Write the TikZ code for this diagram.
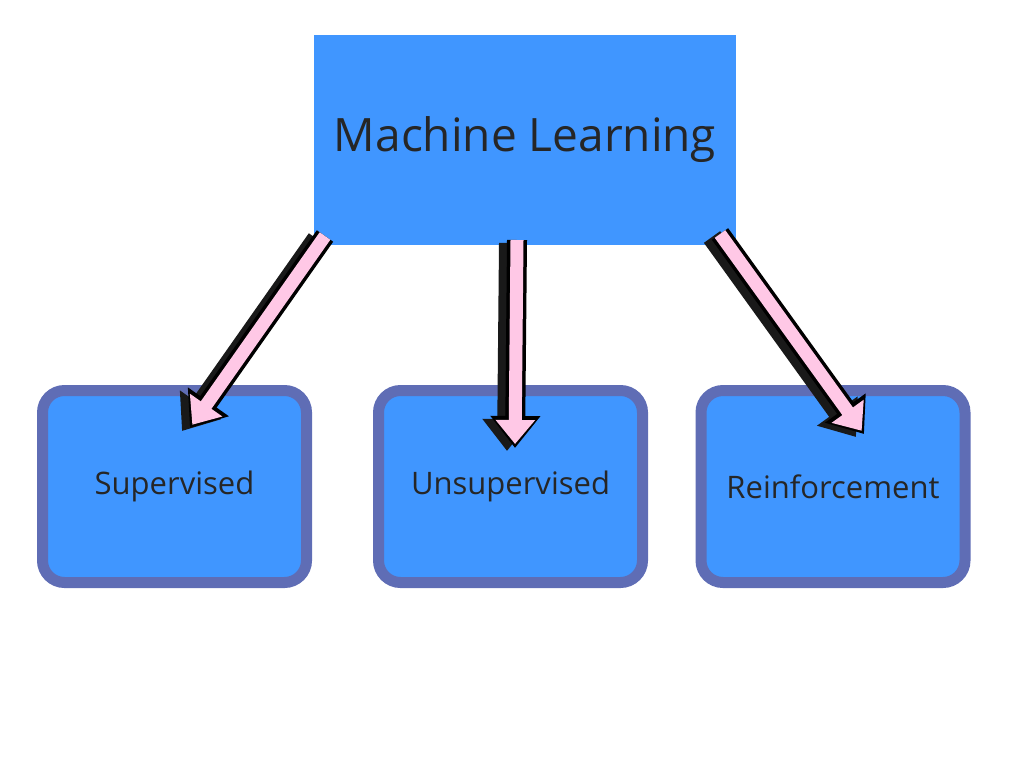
\documentclass[tikz,border=0pt]{standalone}
\usepackage{fontspec}
\setmainfont{Open Sans}
\usetikzlibrary{arrows.meta}

\definecolor{mlblue}{HTML}{4096FF}
\definecolor{mlrim}{HTML}{5F6DB5}
\definecolor{mlpink}{HTML}{FFC8E6}

\tikzset{
  topbox/.style={fill=mlblue,minimum width=422pt,minimum height=210pt,inner sep=0pt,
    font=\fontsize{46}{50}\selectfont,text=black!85},
  subbox/.style={fill=mlblue,draw=mlrim,line width=11pt,rounded corners=22pt,
    minimum width=264pt,minimum height=192pt,inner sep=0pt,
    font=\fontsize{31}{36}\selectfont,text=black!85},
  shade/.style={line width=20pt,black!90,-{Triangle[length=32pt 0 0,width=48pt 0 0]}},
  rim/.style={line width=20pt,black,-{Triangle[length=32pt 0 0,width=48pt 0 0]}},
  core/.style={line width=13pt,mlpink,shorten >=4pt,-{Triangle[length=24pt 0 0,width=38pt 0 0]}},
}
\newcommand\bigarrow[2]{%
  \draw[shade] ([shift={(-8,3)}]#1) -- ([shift={(-8,3)}]#2);
  \draw[rim] (#1) -- (#2);
  \draw[core] (#1) -- (#2);
}

\begin{document}
\begin{tikzpicture}[x=1pt,y=-1pt]
\useasboundingbox (0,0) rectangle (1024,768);

\node[topbox] (ml) at (525,140) {Machine Learning};

\node[subbox] (sup) at (174.5,486.5) {Supervised};
\node[subbox] (unsup) at (510.5,486.5) {Unsupervised};
\node[subbox] (reinf) at (833,486.5) {Reinforcement};

\coordinate (s1) at (325,236);
\coordinate (e1) at (190,428);
\coordinate (s2) at (517,240);
\coordinate (e2) at (515,448);
\coordinate (s3) at (720,234);
\coordinate (e3) at (864,434);

\bigarrow{s1}{e1}
\bigarrow{s2}{e2}
\bigarrow{s3}{e3}

\end{tikzpicture}
\end{document}
